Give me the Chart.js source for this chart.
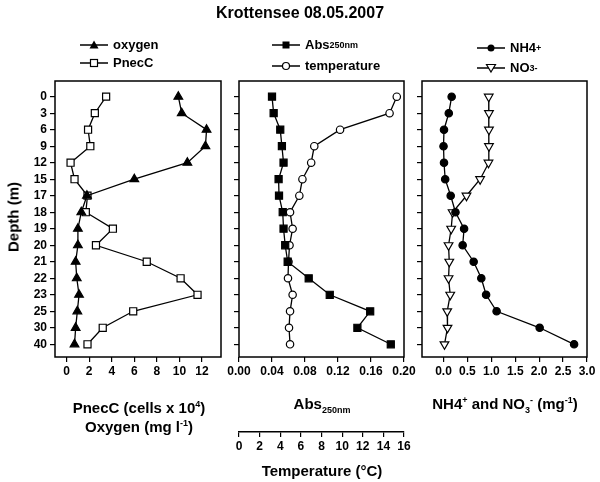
<!DOCTYPE html>
<html>
<head>
<meta charset="utf-8">
<script src="https://cdn.jsdelivr.net/npm/chart.js@4"></script>
<style>
  body { margin: 0; background: #fff; }
  #wrap { position: relative; width: 600px; height: 482px; font-family: "Liberation Sans", Arial, sans-serif; font-weight: bold; color: #000; }
  canvas { position: absolute; left: 0; top: 0; }
  .txt { position: absolute; white-space: nowrap; transform: translate(-50%, -50%); }
  .leg { position: absolute; font-size: 13px; display: flex; align-items: center; white-space: nowrap; }
  .leg svg { margin-right: 5px; }
  sub, sup { font-size: 9px; }
</style>
</head>
<body>
<div id="wrap">
  <canvas id="c1" width="600" height="482"></canvas>
  <canvas id="c2" width="600" height="482"></canvas>
  <canvas id="c3" width="600" height="482"></canvas>

  <div class="txt" style="left:300px;top:13px;font-size:16px;">Krottensee 08.05.2007</div>

  <div class="leg" style="left:80px;top:37px;"><svg width="28" height="12"><line x1="0" y1="6" x2="28" y2="6" stroke="#000" stroke-width="1.5"/><polygon points="14,1.5 18.5,9.5 9.5,9.5" fill="#000"/></svg>oxygen</div>
  <div class="leg" style="left:80px;top:55px;"><svg width="28" height="12"><line x1="0" y1="6" x2="28" y2="6" stroke="#000" stroke-width="1.5"/><rect x="10.5" y="2.5" width="7" height="7" fill="#fff" stroke="#000" stroke-width="1.2"/></svg>PnecC</div>

  <div class="leg" style="left:272px;top:37px;"><svg width="28" height="12"><line x1="0" y1="6" x2="28" y2="6" stroke="#000" stroke-width="1.5"/><rect x="10.5" y="2.5" width="7" height="7" fill="#000"/></svg>Abs<sub>250nm</sub></div>
  <div class="leg" style="left:272px;top:58px;"><svg width="28" height="12"><line x1="0" y1="6" x2="28" y2="6" stroke="#000" stroke-width="1.5"/><circle cx="14" cy="6" r="3.5" fill="#fff" stroke="#000" stroke-width="1.2"/></svg>temperature</div>

  <div class="leg" style="left:477px;top:40px;"><svg width="28" height="12"><line x1="0" y1="6" x2="28" y2="6" stroke="#000" stroke-width="1.5"/><circle cx="14" cy="6" r="3.5" fill="#000"/></svg>NH4<sup>+</sup></div>
  <div class="leg" style="left:477px;top:60px;"><svg width="28" height="12"><line x1="0" y1="6" x2="28" y2="6" stroke="#000" stroke-width="1.5"/><polygon points="14,10 18.5,2.5 9.5,2.5" fill="#fff" stroke="#000" stroke-width="1.2"/></svg>NO<sub>3</sub><sup>-</sup></div>

  <div class="txt" style="left:13px;top:217px;font-size:15px;transform:translate(-50%,-50%) rotate(-90deg);">Depth (m)</div>

  <div class="txt" style="left:139px;top:407px;font-size:15px;">PnecC (cells x 10<sup>4</sup>)</div>
  <div class="txt" style="left:139px;top:426px;font-size:15px;">Oxygen (mg l<sup>-1</sup>)</div>
  <div class="txt" style="left:322px;top:405px;font-size:15px;">Abs<sub>250nm</sub></div>
  <div class="txt" style="left:505px;top:405px;font-size:15px;">NH4<sup>+</sup> and NO<sub>3</sub><sup>-</sup> (mg<sup>-1</sup>)</div>
  <div class="txt" style="left:322px;top:470px;font-size:15px;">Temperature (°C)</div>
</div>

<script>
const depthLabels = ["0", "3", "6", "9", "12", "15", "17", "18", "19", "20", "21", "22", "23", "25", "30", "40"];

const oxygen = [9.9, 10.2, 12.4, 12.3, 10.7, 6.0, 1.8, 1.3, 1.0, 1.0, 0.8, 0.9, 1.1, 0.95, 0.8, 0.7];
const pnecC = [3.5, 2.5, 1.9, 2.1, 0.35, 0.7, 1.85, 1.7, 4.1, 2.6, 7.1, 10.1, 11.6, 5.9, 3.2, 1.85];

const absorbance = [0.04, 0.042, 0.05, 0.052, 0.054, 0.048, 0.0485, 0.053, 0.054, 0.056, 0.059, 0.0845, 0.11, 0.159, 0.1435, 0.184];
const temperature = [15.3, 14.6, 9.8, 7.3, 7.0, 6.15, 5.85, 4.95, 5.2, 4.9, 4.8, 4.75, 5.2, 4.95, 4.85, 4.95];

const nh4 = [0.17, 0.11, 0.01, 0.0, 0.01, 0.035, 0.15, 0.25, 0.43, 0.4, 0.63, 0.79, 0.89, 1.11, 2.01, 2.73];
const no3 = [0.945, 0.95, 0.95, 0.95, 0.94, 0.765, 0.48, 0.19, 0.16, 0.105, 0.12, 0.105, 0.14, 0.077, 0.083, 0.02];

const pnecTicks = [0, 2, 4, 6, 8, 10, 12];
const absTicks = [0, 0.04, 0.08, 0.12, 0.16, 0.2];
const tempTicks = [0, 2, 4, 6, 8, 10, 12, 14, 16];
const nTicks = [0, 0.5, 1, 1.5, 2, 2.5, 3];

Chart.defaults.font.family = '"Liberation Sans", Arial, sans-serif';
Chart.defaults.font.weight = "bold";
Chart.defaults.font.size = 12;
Chart.defaults.color = "#000";
Chart.defaults.animation = false;

const toPoints = (values) => values.map((v, i) => ({ x: v, y: i }));

// frame around each plot area
const boxPlugin = {
  id: "box",
  beforeDatasetsDraw(chart) {
    const { ctx, chartArea: a } = chart;
    ctx.save();
    ctx.strokeStyle = "#000";
    ctx.lineWidth = 1.5;
    ctx.strokeRect(a.left, a.top, a.right - a.left, a.bottom - a.top);
    ctx.restore();
  },
};

function series(values, style, xAxisID) {
  return {
    data: toPoints(values),
    xAxisID: xAxisID || "x",
    showLine: true,
    borderColor: "#000",
    borderWidth: 1.3,
    pointStyle: style.shape,
    pointRotation: style.rotation || 0,
    pointRadius: style.radius,
    pointBackgroundColor: style.fill,
    pointBorderColor: "#000",
    pointBorderWidth: 1.2,
  };
}

function xAxis(min, max, ticks, fmt, height, extra) {
  return Object.assign(
    {
      type: "linear",
      position: "bottom",
      min: min,
      max: max,
      afterBuildTicks: (scale) => {
        scale.ticks = ticks.map((v) => ({ value: v }));
      },
      afterFit: (scale) => {
        scale.height = height;
      },
      grid: { drawOnChartArea: false, tickLength: 5, color: "#000", lineWidth: 1.2 },
      border: { display: false },
      ticks: { padding: 2, maxRotation: 0, autoSkip: false, callback: fmt },
    },
    extra || {},
  );
}

function yAxis(showLabels, width) {
  return {
    type: "linear",
    reverse: true,
    min: -0.95,
    max: 15.77,
    afterBuildTicks: (scale) => {
      scale.ticks = depthLabels.map((_, i) => ({ value: i }));
    },
    afterFit: (scale) => {
      scale.width = width;
    },
    grid: { drawOnChartArea: false, tickLength: 5, color: "#000", lineWidth: 1.2 },
    border: { display: false },
    ticks: {
      display: showLabels,
      padding: 3,
      autoSkip: false,
      callback: (v) => depthLabels[v],
    },
  };
}

function makePanel(id, datasets, scales, padding) {
  return new Chart(document.getElementById(id), {
    type: "scatter",
    data: { datasets: datasets },
    options: {
      responsive: false,
      devicePixelRatio: 1,
      layout: { padding: padding },
      plugins: { legend: { display: false }, tooltip: { enabled: false } },
      scales: scales,
    },
    plugins: [boxPlugin],
  });
}

// panel 1: oxygen and PnecC
makePanel(
  "c1",
  [
    series(oxygen, { shape: "triangle", radius: 5, fill: "#000" }),
    series(pnecC, { shape: "rect", radius: 5, fill: "#fff" }),
  ],
  {
    x: xAxis(-1.03, 13.68, pnecTicks, (v) => v, 30),
    y: yAxis(true, 55),
  },
  { left: 0, right: 379, top: 81, bottom: 95 },
);

// panel 2: absorbance and temperature
makePanel(
  "c2",
  [
    series(absorbance, { shape: "rect", radius: 5, fill: "#000" }),
    series(temperature, { shape: "circle", radius: 3.7, fill: "#fff" }, "x2"),
  ],
  {
    x: xAxis(0, 0.2, absTicks, (v) => v.toFixed(2), 75),
    x2: xAxis(0, 16, tempTicks, (v) => v, 30, {
      weight: 1,
      border: { display: true, color: "#000", width: 1.5 },
    }),
    y: yAxis(false, 20),
  },
  { left: 219, right: 196, top: 81, bottom: 20 },
);

// panel 3: NH4+ and NO3-
makePanel(
  "c3",
  [
    series(nh4, { shape: "circle", radius: 3.7, fill: "#000" }),
    series(no3, { shape: "triangle", radius: 5, fill: "#fff", rotation: 180 }),
  ],
  {
    x: xAxis(-0.45, 3.0, nTicks, (v) => v.toFixed(1), 30),
    y: yAxis(false, 20),
  },
  { left: 402, right: 13, top: 81, bottom: 95 },
);
</script>
</body>
</html>
